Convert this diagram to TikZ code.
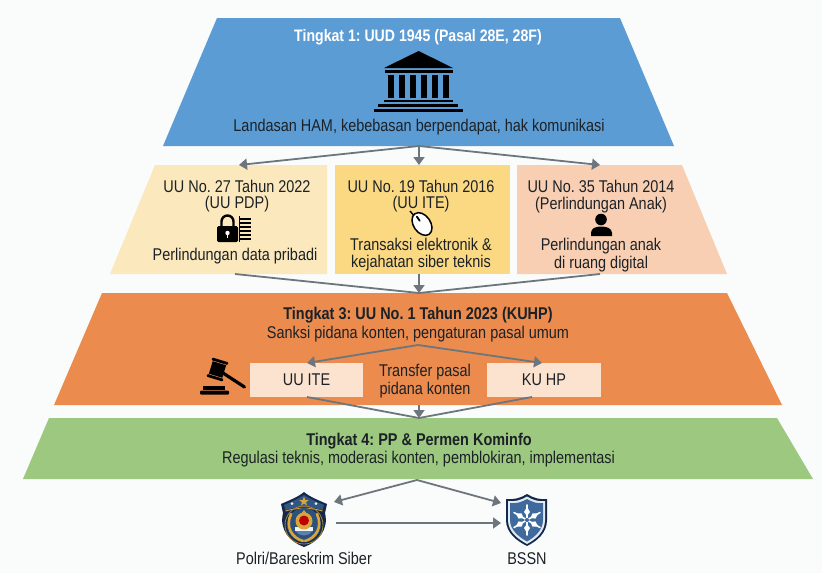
\documentclass[tikz,border=0pt]{standalone}
\usepackage{fontspec}
\setmainfont{Liberation Sans}[FakeStretch=0.85]
\frenchspacing
\usetikzlibrary{arrows.meta}
\definecolor{bgc}{HTML}{FAFBFB}
\definecolor{tblue}{HTML}{5C9CD5}
\definecolor{tyela}{HTML}{FBE8BC}
\definecolor{tyelb}{HTML}{FBD983}
\definecolor{tpeach}{HTML}{F8CFB2}
\definecolor{torange}{HTML}{EB8B4E}
\definecolor{tgreen}{HTML}{9CC87F}
\definecolor{boxc}{HTML}{FBE3D0}
\definecolor{arrowc}{HTML}{6E767D}
\definecolor{ink}{HTML}{1B2126}
\definecolor{navy}{HTML}{13294B}
\definecolor{gold}{HTML}{D9A63A}
\definecolor{shieldblue}{HTML}{3E6A9E}
\tikzset{
  tier/.style={fill=#1,draw=none},
  lbl/.style={text=ink,font=\fontsize{17}{20}\selectfont,inner sep=0pt,align=center,yshift=-1.5pt},
  lblb/.style={lbl,font=\fontsize{17}{20}\selectfont\bfseries},
  lblw/.style={lblb,text=white,font=\fontsize{16.6}{20}\selectfont\bfseries},
  inbox/.style={fill=boxc,draw=none,inner sep=0pt,font=\fontsize{17}{20}\selectfont,text=ink},
  conn/.style={draw=arrowc,line width=1.8pt,-{Triangle[length=8pt,width=11pt]}},
  connplain/.style={draw=arrowc,line width=1.8pt},
  icon/.style={fill=black,draw=none}
}
\begin{document}
\begin{tikzpicture}[x=1pt,y=-1pt]
\useasboundingbox (0,0) rectangle (822,573);
\fill[bgc] (0,0) rectangle (822,573);
% tiers
\fill[tier=tblue] (217,18) -- (620,18) -- (674,146) -- (163,146) -- cycle;
\fill[tier=tyela] (155,165) -- (327,165) -- (327,274) -- (110,274) -- cycle;
\fill[tier=tyelb] (335,165) -- (510,165) -- (510,274) -- (335,274) -- cycle;
\fill[tier=tpeach] (517,165) -- (682,165) -- (727,274) -- (517,274) -- cycle;
\fill[tier=torange] (102,293) -- (727,293) -- (782,405) -- (54,405) -- cycle;
\fill[tier=tgreen] (49,418) -- (777,418) -- (813,479) -- (23,479) -- cycle;
% anchor points
\coordinate (t1b) at (419,146);
\coordinate (t2l) at (239,165);
\coordinate (t2m) at (419,165);
\coordinate (t2r) at (600,165);
\coordinate (t2lb) at (235,274);
\coordinate (t2mb) at (419,274);
\coordinate (t2rb) at (600,274);
\coordinate (t3t) at (419,293);
\coordinate (t3a) at (418,345);
\coordinate (t3b) at (419,405);
\coordinate (t4t) at (419,418);
\coordinate (t4b) at (417,480);
% tier 1
\node[lblw] (a1) at (418,36) {Tingkat 1: UUD 1945 (Pasal 28E, 28F)};
\node[lbl] (a2) at (419,126) {Landasan HAM, kebebasan berpendapat, hak komunikasi};
\fill[icon] (418.6,51) -- (453,68) -- (384,68) -- cycle;
\fill[icon] (385,70) rectangle (453,73);
\foreach \cx in {388,399,410,421,432,443}{\fill[icon] (\cx,75) rectangle ++(6,23);}
\fill[icon] (384,99.5) rectangle (453,102);
\fill[icon] (378,104) rectangle (458,107);
\fill[icon] (374,108.5) rectangle (463,112);
% tier 2
\node[lbl] (b1) at (237,185) {UU No. 27 Tahun 2022};
\node[lbl] (b2) at (237,203) {(UU PDP)};
\node[lbl] (b3) at (235,255) {Perlindungan data pribadi};
\node[lbl] (c1) at (421,185) {UU No. 19 Tahun 2016};
\node[lbl] (c2) at (421,203) {(UU ITE)};
\node[lbl] (c3) at (421,243) {Transaksi elektronik \&};
\node[lbl] (c4) at (421,262) {kejahatan siber teknis};
\node[lbl] (d1) at (601,185) {UU No. 35 Tahun 2014};
\node[lbl] (d2) at (601,204) {(Perlindungan Anak)};
\node[lbl] (d3) at (601,245) {Perlindungan anak};
\node[lbl] (d4) at (601,263) {di ruang digital};
% lock + list
\draw[black,line width=2.4pt] (221.5,227) -- (221.5,221.5) arc[start angle=180,end angle=360,x radius=6,y radius=6] -- (233.5,227);
\fill[icon,rounded corners=1.5pt] (217,226) rectangle (238,242);
\fill[white] (227.5,233) circle (2.2);
\fill[white] (226.6,233) rectangle (228.4,237.5);
\foreach \ly in {218,222,226,230,234,238}{\fill[icon] (240,\ly) rectangle (251,\ly+2.2);}
\fill[icon] (239,216) rectangle (240.2,242);
% mouse
\draw[black,line width=1.4pt] (410,211) -- (416,218);
\begin{scope}[rotate around={35:(422,224)}]
\draw[black,line width=1.5pt,fill=white] (422,224) ellipse[x radius=8.5,y radius=12.5];
\draw[black,line width=1.8pt,line cap=round] (422,215) -- (422,220);
\end{scope}
% person
\fill[icon] (601,219.5) circle (5.8);
\fill[icon] (591,236) -- (591,233) .. controls (591,228) and (596,226.5) .. (601,226.5) .. controls (606,226.5) and (612,228) .. (612,233) -- (612,236) -- cycle;
% tier 3
\node[lblb] (e1) at (418,314) {Tingkat 3: UU No. 1 Tahun 2023 (KUHP)};
\node[lbl] (e2) at (418,333) {Sanksi pidana konten, pengaturan pasal umum};
\node[inbox,minimum width=113pt,minimum height=34pt] (uuite) at (306.5,380) {UU ITE};
\node[inbox,minimum width=114pt,minimum height=34pt] (kuhp) at (544,380) {KU HP};
\node[lbl] (e3) at (425,371) {Transfer pasal};
\node[lbl] (e4) at (425,389) {pidana konten};
\coordinate (uuitet) at (307,363);
\coordinate (kuhpt) at (542,363);
\coordinate (uuiteb) at (307,397);
\coordinate (kuhpb) at (532,397);
% gavel
\fill[icon] (203,386) rectangle (225,389.5);
\fill[icon,rounded corners=1pt] (200,390.5) rectangle (229,394.5);
\begin{scope}[rotate around={-17:(217.5,369.5)}]
\fill[icon] (210.5,363) rectangle (224.5,376);
\fill[icon,rounded corners=1pt] (209,359.5) rectangle (226,362.3);
\fill[icon,rounded corners=1pt] (209,376.7) rectangle (226,379.5);
\end{scope}
\draw[black,line width=3.2pt,line cap=round] (223,373) -- (244.5,387);
% tier 4
\node[lblb] (f1) at (419,440) {Tingkat 4: PP \& Permen Kominfo};
\node[lbl] (f2) at (418.5,458) {Regulasi teknis, moderasi konten, pemblokiran, implementasi};
% connectors
\draw[conn] (t1b) -- (t2l);
\draw[conn] (t1b) -- (t2m);
\draw[conn] (t1b) -- (t2r);
\draw[connplain] (t2lb) -- (t3t);
\draw[connplain] (t2rb) -- (t3t);
\draw[conn] (t2mb) -- (t3t);
\draw[conn] (t3a) -- (uuitet);
\draw[conn] (t3a) -- (kuhpt);
\draw[connplain] (uuiteb) -- (t4t);
\draw[connplain] (kuhpb) -- (t4t);
\draw[conn] (t3b) -- (t4t);
% Polri badge
\coordinate (polri) at (304,520);
\fill[navy] (281,504) .. controls (290,500) and (298,497) .. (304,492) .. controls (310,497) and (318,500) .. (327,504) -- (325,513) .. controls (329,530) and (318,542) .. (304,547) .. controls (290,542) and (279,530) .. (283,513) -- cycle;
\fill[shieldblue!70!navy] (284,505) .. controls (291,502) and (298,499) .. (304,495) .. controls (310,499) and (317,502) .. (324,505) -- (322.5,510) .. controls (312,506.5) and (296,506.5) .. (285.5,510) -- cycle;
\draw[gold,line width=.9pt] (285.5,511) .. controls (296,507.5) and (312,507.5) .. (322.5,511);
\draw[gold!80!black,line width=.8pt] (304,525) ellipse[x radius=19,y radius=19];
\fill[gold] (304,496.5) -- (305.3,500) -- (308.8,500) -- (306,502.2) -- (307,505.5) -- (304,503.5) -- (301,505.5) -- (302,502.2) -- (299.2,500) -- (302.7,500) -- cycle;
\fill[white!85!gold] (292,503.5) circle (1.5) (316,503.5) circle (1.5);
\fill[shieldblue!60!navy] (304,525) circle (17);
\fill[white!92!shieldblue] (295,527) rectangle (313,531);
\fill[shieldblue!85!white] (295.5,531) .. controls (299,537) and (309,537) .. (312.5,531) -- cycle;
\draw[gold,line width=2.6pt,line cap=round] (291,514) .. controls (285,527) and (292,538) .. (303,541);
\draw[gold,line width=2.6pt,line cap=round] (317,514) .. controls (323,527) and (316,538) .. (305,541);
\fill[gold] (304,521) circle (8.5);
\fill[red!75!black] (304,520.5) circle (5);
\fill[gold] (304,510) -- (307,514) -- (301,514) -- cycle;
% BSSN shield
\coordinate (bssn) at (527,520);
\fill[navy] (506,499) .. controls (513,500) and (521,498) .. (527,494) .. controls (533,498) and (541,500) .. (547,499) -- (547,520) .. controls (547,533) and (537,541) .. (527,546) .. controls (517,541) and (506,533) .. (506,520) -- cycle;
\fill[white!85!shieldblue] (508,501) .. controls (514,502) and (522,500) .. (527,496.5) .. controls (532,500) and (540,502) .. (545,501) -- (545,520) .. controls (545,532) and (536,539) .. (527,544) .. controls (518,539) and (508,532) .. (508,520) -- cycle;
\fill[shieldblue] (510,503) .. controls (516,504) and (522,502) .. (527,499) .. controls (532,502) and (538,504) .. (543,503) -- (543,520) .. controls (543,530) and (535,537) .. (527,541.5) .. controls (519,537) and (510,530) .. (510,520) -- cycle;
\begin{scope}[white,line width=1.6pt,line cap=round]
\foreach \ang in {0,60,120,180,240,300}{
 \draw[shift={(527,520)},rotate=\ang+30] (0,0) -- (15,0);
 \fill[shift={(527,520)},rotate=\ang+30] (8,-3) -- (13,0) -- (8,3) -- (4,0) -- cycle;
}
\end{scope}
\fill[shieldblue] (527,520) circle (2);
\node[lbl] (g1) at (304,557) {Polri/Bareskrim Siber};
\node[lbl] (g2) at (527,557) {BSSN};
% lower connectors
\draw[conn] (t4b) -- (334,502);
\draw[conn] (t4b) -- (501,503);
\draw[conn] (336,523) -- (501,523);
\end{tikzpicture}
\end{document}
